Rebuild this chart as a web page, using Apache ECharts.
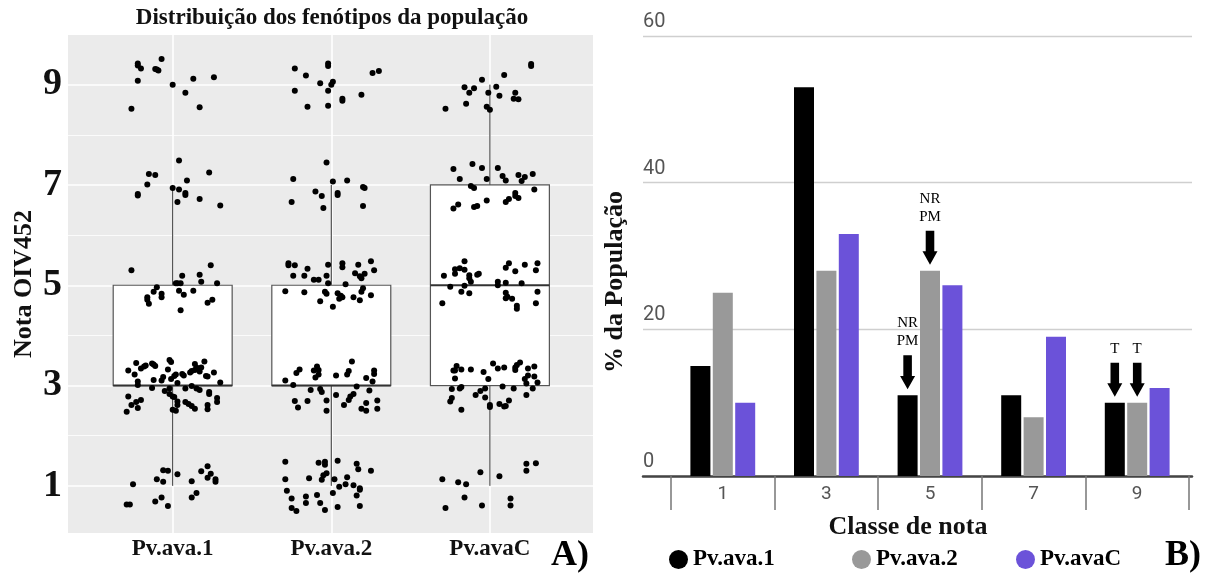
<!DOCTYPE html>
<html>
<head>
<meta charset="utf-8">
<script src="https://cdn.jsdelivr.net/npm/echarts@6/dist/echarts.min.js"></script>
<style>
html, body { margin: 0; padding: 0; background: #fff; }
#chart { width: 1205px; height: 574px; }
</style>
</head>
<body>
<div id="chart"></div>
<script>
// ---- panel A: boxplot + jittered points ----
var groups = ['Pv.ava.1', 'Pv.ava.2', 'Pv.avaC'];
// [lower whisker, Q1, median, Q3, upper whisker]
var boxStats = [[1, 3, 3, 5, 7], [1, 3, 3, 5, 7], [1, 3, 5, 7, 9]];
var yTicksA = [1, 3, 5, 7, 9];
var yMinorA = [2, 4, 6, 8];
// jittered points: [horizontal offset from group centre, nota]
var jitter1 = [
  [-0.07,9.51],[-0.22,9.42],[-0.22,9.38],[-0.20,9.32],[-0.11,9.31],[-0.10,9.30],[-0.09,9.28],[-0.22,9.08],[0.13,9.12],[0.26,9.15],[0.00,9.00],[0.08,8.84],[-0.26,8.52],[0.17,8.55],
  [0.04,7.49],[-0.15,7.22],[-0.11,7.20],[0.23,7.25],[-0.16,7.01],[0.09,7.09],[0.00,6.94],[0.04,6.91],[0.08,6.84],[0.08,6.80],[-0.22,6.82],[-0.22,6.79],[0.17,6.72],[0.03,6.66],[0.30,6.59],
  [-0.26,5.30],[0.24,5.40],[0.06,5.19],[0.17,5.21],[0.02,5.04],[0.03,5.04],[0.05,5.04],[0.18,5.07],[0.28,5.04],[-0.10,4.96],[-0.12,4.87],[-0.07,4.83],[-0.07,4.76],[0.04,4.89],[0.07,4.81],[0.13,4.89],[-0.16,4.76],[-0.16,4.71],[-0.15,4.63],[0.22,4.65],[0.25,4.71],[0.05,4.50],
  [-0.23,3.45],[-0.28,3.30],[-0.24,3.22],[-0.22,3.08],[-0.22,3.01],[-0.20,3.34],[-0.18,3.38],[-0.17,3.40],[-0.13,3.44],[-0.12,3.42],[-0.11,3.39],[-0.02,3.51],[-0.01,3.47],[-0.03,3.32],[-0.12,3.11],[-0.07,3.10],[-0.06,3.17],[-0.01,3.13],[0.01,3.19],[0.02,3.22],[0.06,3.23],[0.07,3.20],[0.03,3.05],[0.11,3.26],[0.12,3.29],[0.14,3.43],[0.15,3.36],[0.14,3.31],[0.17,3.28],[0.18,3.36],[0.20,3.48],[0.21,3.19],[0.22,3.18],[0.26,3.26],[0.30,3.06],
  [-0.13,2.95],[-0.05,2.89],[-0.02,2.94],[-0.02,2.83],[0.00,2.78],[0.01,2.77],[0.03,2.68],[0.03,2.61],[0.00,2.52],[0.02,2.50],[0.08,2.94],[0.12,2.99],[0.15,2.94],[0.17,2.91],[0.23,2.87],[0.23,2.83],[0.28,2.75],[0.28,2.67],[0.22,2.61],[0.22,2.53],[-0.28,2.78],[-0.26,2.61],[-0.23,2.67],[-0.20,2.71],[-0.22,2.55],[-0.29,2.48],[0.08,2.67],[0.10,2.63],[0.12,2.59],[0.14,2.54],
  [-0.06,1.31],[-0.03,1.30],[0.03,1.23],[-0.10,1.13],[-0.06,1.08],[-0.25,1.03],[0.18,1.29],[0.22,1.39],[0.24,1.24],[0.22,1.16],[0.27,1.13],[0.27,1.08],[0.12,1.09],[0.15,0.86],[0.12,0.77],[-0.07,0.77],[-0.11,0.69],[-0.03,0.60],[-0.29,0.63],[-0.27,0.63]
];
var jitter2 = [
  [-0.02,9.42],[-0.02,9.37],[-0.23,9.32],[-0.16,9.18],[0.26,9.23],[0.30,9.27],[-0.07,9.03],[0.01,9.06],[0.00,9.00],[-0.23,8.88],[-0.02,8.88],[0.19,8.80],[0.07,8.72],[0.07,8.68],[-0.15,8.56],[-0.02,8.58],
  [-0.03,7.45],[-0.24,7.12],[0.01,7.07],[0.10,7.09],[0.20,6.96],[0.21,6.94],[-0.10,6.87],[-0.06,6.78],[0.04,6.84],[0.04,6.80],[-0.25,6.66],[-0.05,6.54],[0.20,6.58],
  [-0.27,5.44],[-0.27,5.40],[-0.23,5.40],[-0.15,5.33],[-0.02,5.41],[0.07,5.44],[0.07,5.36],[0.17,5.41],[0.25,5.48],[0.27,5.30],[0.15,5.24],[0.18,5.18],[0.19,5.14],[0.21,5.23],[-0.24,5.19],[-0.17,5.19],[-0.11,5.11],[-0.08,5.11],[-0.03,5.19],[-0.02,5.04],[0.09,5.02],
  [-0.29,4.88],[-0.17,4.86],[-0.04,4.87],[-0.03,4.83],[0.04,4.84],[0.06,4.79],[0.05,4.73],[0.07,4.76],[0.14,4.76],[0.18,4.70],[0.19,4.87],[0.20,4.94],[0.25,4.80],[-0.07,4.68],[0.01,4.57],
  [0.13,3.48],[0.11,3.29],[0.10,3.22],[-0.09,3.38],[-0.08,3.31],[-0.08,3.22],[-0.11,3.30],[-0.10,3.16],[-0.20,3.32],[-0.22,3.25],[0.03,3.20],[0.27,3.30],[0.27,3.23],[0.22,3.15],[0.26,3.08],[-0.29,3.10],[-0.24,3.01],[0.16,2.98],[-0.13,2.91],[-0.07,2.93],[-0.06,2.87],[0.03,2.81],[-0.03,2.70],[-0.03,2.50],[-0.23,2.69],[-0.21,2.56],[-0.15,2.69],[0.24,2.90],[0.14,2.83],[0.12,2.78],[0.11,2.71],[0.08,2.61],[0.22,2.65],[0.19,2.54],[0.22,2.50],[0.29,2.70],[0.29,2.54],
  [-0.29,1.48],[-0.08,1.46],[-0.04,1.48],[-0.04,1.42],[0.04,1.50],[0.16,1.44],[0.17,1.33],[0.25,1.30],[-0.05,1.21],[-0.03,1.25],[-0.06,1.12],[-0.14,1.15],[-0.29,1.13],[0.02,1.13],[0.10,1.17],[0.09,1.03],[0.14,1.01],[0.05,0.98],[0.18,0.95],[0.18,0.92],[-0.28,0.90],[0.01,0.86],[-0.09,0.82],[0.16,0.81],[-0.16,0.79],[-0.16,0.66],[-0.25,0.75],[-0.07,0.66],[-0.25,0.56],[-0.22,0.50],[-0.04,0.52],[0.04,0.58],[0.18,0.60]
];
var jitterC = [
  [0.26,9.41],[0.26,9.37],[0.09,9.19],[-0.05,9.10],[-0.16,8.95],[-0.10,8.93],[-0.13,8.84],[0.04,8.96],[-0.01,8.84],[0.06,8.78],[0.16,8.84],[0.15,8.72],[0.18,8.71],[-0.15,8.62],[-0.02,8.56],[0.00,8.50],[-0.28,8.52],
  [-0.23,7.32],[-0.11,7.42],[-0.05,7.34],[0.05,7.34],[-0.19,7.12],[-0.02,7.12],[0.08,7.18],[0.10,7.09],[0.18,7.20],[0.22,7.16],[0.20,7.08],[0.27,7.22],[-0.12,6.98],[-0.10,6.94],[0.28,6.91],[0.16,6.84],[0.16,6.78],[0.18,6.74],[0.12,6.72],[0.10,6.66],[-0.02,6.69],[-0.20,6.61],[-0.23,6.53],[-0.10,6.56],[-0.08,6.58],
  [-0.16,5.48],[-0.22,5.32],[-0.19,5.34],[-0.16,5.31],[-0.22,5.23],[-0.29,5.19],[-0.13,5.20],[-0.13,5.14],[-0.08,5.21],[-0.07,5.23],[0.10,5.35],[0.12,5.44],[0.16,5.28],[0.22,5.41],[0.30,5.44],[0.29,5.30],
  [-0.12,5.07],[0.05,5.07],[0.05,5.00],[0.10,5.05],[0.20,5.04],[-0.25,4.97],[-0.16,4.99],[-0.18,4.87],[-0.13,4.84],[-0.30,4.64],[0.10,4.85],[0.10,4.74],[0.11,4.77],[0.14,4.73],[0.17,4.59],[0.17,4.53],[0.30,4.87],[0.29,4.64],
  [-0.21,3.39],[-0.23,3.30],[-0.22,3.30],[-0.18,3.32],[-0.22,3.14],[-0.12,3.32],[-0.04,3.27],[-0.01,3.13],[0.02,3.44],[0.05,3.34],[0.09,3.36],[0.16,3.36],[0.16,3.31],[0.17,3.41],[0.19,3.46],[0.24,3.34],[0.24,3.20],[0.28,3.38],[0.28,3.18],[0.22,3.13],[0.23,3.04],[0.30,3.06],[0.27,2.94],[0.23,2.81],[0.15,2.94],[0.08,2.98],[-0.03,2.94],[-0.06,2.89],[-0.09,2.81],[-0.03,2.76],[0.00,2.61],[0.00,2.57],[0.06,2.63],[0.09,2.58],[0.10,2.59],[0.12,2.70],[-0.24,2.93],[-0.19,2.94],[-0.18,2.97],[-0.24,2.75],[-0.25,2.68],[-0.18,2.52],
  [0.23,1.44],[0.23,1.30],[0.29,1.45],[-0.06,1.27],[0.06,1.19],[-0.30,1.13],[-0.20,1.07],[-0.15,1.03],[-0.16,0.77],[-0.28,0.56],[-0.05,0.61],[0.13,0.75],[0.13,0.61]
];

// ---- panel B: bars ----
var classes = ['1', '3', '5', '7', '9'];
var pva1 = [15, 53, 11, 11, 10];
var pva2 = [25, 28, 28, 8, 10];
var pvaC = [10, 33, 26, 19, 12];
var yTicksB = [0, 20, 40, 60];

var serif = "'Liberation Serif', 'Times New Roman', serif";
var arrow = 'path://M3,0 L11,0 L11,20 L14,20 L7,33 L0,20 L3,20 Z';

var chart = echarts.init(document.getElementById('chart'));

var jitterData = [];
[jitter1, jitter2, jitterC].forEach(function (pts, g) {
    pts.forEach(function (p) { jitterData.push([g + p[0], p[1]]); });
});
var boxData = boxStats.map(function (s, g) { return [g].concat(s); });

var linesA = [];
yTicksA.forEach(function (v) {
    linesA.push({
        yAxis: v,
        lineStyle: { color: '#fff', width: 1.6, type: 'solid' },
        label: { show: true, position: 'start', distance: 6, formatter: String(v),
                 color: '#111', fontFamily: serif, fontWeight: 'bold', fontSize: 38 }
    });
});
yMinorA.forEach(function (v) {
    linesA.push({ yAxis: v, lineStyle: { color: '#fff', width: 0.8, type: 'solid' }, label: { show: false } });
});
groups.forEach(function (name, g) {
    linesA.push({
        xAxis: g,
        lineStyle: { color: '#fff', width: 1.6, type: 'solid' },
        label: { show: true, position: 'start', distance: 5, formatter: name,
                 color: '#111', fontFamily: serif, fontWeight: 'bold', fontSize: 23 }
    });
});

function legendAt(name, left) {
    return {
        data: [name], left: left, top: 543, icon: 'circle',
        itemWidth: 19, itemHeight: 19, itemGap: 5,
        textStyle: { color: '#000', fontFamily: serif, fontWeight: 'bold', fontSize: 23 }
    };
}

function marks(idxs, texts, values) {
    return {
        symbol: arrow,
        symbolSize: [15, 34],
        symbolOffset: [0, -23],
        itemStyle: { color: '#000' },
        label: {
            show: true, position: 'top', distance: 5, color: '#000',
            fontFamily: serif, fontSize: 15, lineHeight: 18,
            formatter: function (p) { return p.name; }
        },
        data: idxs.map(function (i, k) {
            return { name: texts[k], coord: [classes[i], values[i]] };
        })
    };
}

var option = {
    animation: false,
    backgroundColor: '#fff',
    grid: [
        { left: 68, right: 612, top: 35, bottom: 41, show: true, backgroundColor: '#ebebeb', borderWidth: 0 },
        { left: 643, right: 13, top: 36, bottom: 98 },
        { left: 671, right: 16, top: 36, bottom: 98 }
    ],
    xAxis: [
        { gridIndex: 0, type: 'value', min: -0.66, max: 2.65, show: false },
        { gridIndex: 1, type: 'value', min: 0, max: 1,
          axisLine: { show: true, lineStyle: { color: '#444', width: 2.5 } },
          axisTick: { show: false }, axisLabel: { show: false }, splitLine: { show: false } },
        { gridIndex: 2, type: 'category', data: classes,
          axisLine: { show: false },
          axisTick: { show: true, length: 34, lineStyle: { color: '#777', width: 1.5 } },
          axisLabel: { color: '#555', fontSize: 19, margin: 9, fontFamily: 'Roboto' },
          splitLine: { show: false } }
    ],
    yAxis: [
        { gridIndex: 0, type: 'value', min: 0.06, max: 9.99, show: false },
        { gridIndex: 1, type: 'value', min: yTicksB[0], max: yTicksB[yTicksB.length - 1], interval: 20,
          axisLine: { show: false }, axisTick: { show: false },
          splitLine: { lineStyle: { color: '#cfcfcf', width: 1.3 } },
          axisLabel: { inside: true, margin: 0, verticalAlign: 'bottom', padding: [0, 0, 4, 0],
                       color: '#555', fontSize: 20, fontFamily: 'Roboto' } },
        { gridIndex: 2, type: 'value', min: yTicksB[0], max: yTicksB[yTicksB.length - 1], show: false }
    ],
    legend: [
        legendAt('Pv.ava.1', 664),
        legendAt('Pv.ava.2', 847),
        legendAt('Pv.avaC', 1011)
    ],
    graphic: [
        { type: 'text', x: 332, y: 18, style: { text: 'Distribuição dos fenótipos da população', fill: '#111',
          font: 'bold 23px ' + serif, align: 'center', verticalAlign: 'middle' } },
        { type: 'text', x: 24, y: 284, rotation: Math.PI / 2, style: { text: 'Nota OIV452', fill: '#111',
          font: 'bold 26px ' + serif, align: 'center', verticalAlign: 'middle' } },
        { type: 'text', x: 570, y: 556, style: { text: 'A)', fill: '#000',
          font: 'bold 36px ' + serif, align: 'center', verticalAlign: 'middle' } },
        { type: 'text', x: 615, y: 282, rotation: Math.PI / 2, style: { text: '% da População', fill: '#111',
          font: 'bold 26px ' + serif, align: 'center', verticalAlign: 'middle' } },
        { type: 'text', x: 908, y: 527, style: { text: 'Classe de nota', fill: '#111',
          font: 'bold 26px ' + serif, align: 'center', verticalAlign: 'middle' } },
        { type: 'text', x: 1183, y: 556, style: { text: 'B)', fill: '#000',
          font: 'bold 36px ' + serif, align: 'center', verticalAlign: 'middle' } }
    ],
    series: [
        {
            name: 'caixas',
            type: 'custom',
            xAxisIndex: 0, yAxisIndex: 0,
            z: 2,
            data: boxData,
            renderItem: function (params, api) {
                var x = api.value(0);
                var q1 = api.coord([x - 0.375, api.value(2)]);
                var q3 = api.coord([x + 0.375, api.value(4)]);
                var med = api.coord([x - 0.375, api.value(3)]);
                var lo = api.coord([x, api.value(1)]);
                var hi = api.coord([x, api.value(5)]);
                var st = { stroke: '#333', lineWidth: 1 };
                return {
                    type: 'group',
                    children: [
                        { type: 'line', shape: { x1: lo[0], y1: lo[1], x2: lo[0], y2: q1[1] }, style: st },
                        { type: 'line', shape: { x1: hi[0], y1: q3[1], x2: hi[0], y2: hi[1] }, style: st },
                        { type: 'rect', shape: { x: q1[0], y: q3[1], width: q3[0] - q1[0], height: q1[1] - q3[1] },
                          style: { fill: '#fff', stroke: '#555', lineWidth: 1.2 } },
                        { type: 'line', shape: { x1: med[0], y1: med[1], x2: q3[0], y2: med[1] },
                          style: { stroke: '#333', lineWidth: 2 } }
                    ]
                };
            },
            markLine: {
                silent: true, z: 1, symbol: ['none', 'none'],
                data: linesA
            }
        },
        {
            name: 'pontos',
            type: 'scatter',
            xAxisIndex: 0, yAxisIndex: 0,
            z: 3,
            symbolSize: 6,
            itemStyle: { color: '#000', opacity: 1 },
            data: jitterData
        },
        {
            name: 'Pv.ava.1', type: 'bar', xAxisIndex: 2, yAxisIndex: 2,
            barWidth: 20, barGap: '12%',
            itemStyle: { color: '#000' },
            data: pva1,
            markPoint: marks([2, 4], ['NR\nPM', 'T'], pva1)
        },
        {
            name: 'Pv.ava.2', type: 'bar', xAxisIndex: 2, yAxisIndex: 2,
            barWidth: 20, barGap: '12%',
            itemStyle: { color: '#999' },
            data: pva2,
            markPoint: marks([2, 4], ['NR\nPM', 'T'], pva2)
        },
        {
            name: 'Pv.avaC', type: 'bar', xAxisIndex: 2, yAxisIndex: 2,
            barWidth: 20, barGap: '12%',
            itemStyle: { color: '#6b52d9' },
            data: pvaC
        }
    ]
};

chart.setOption(option);
</script>
</body>
</html>
